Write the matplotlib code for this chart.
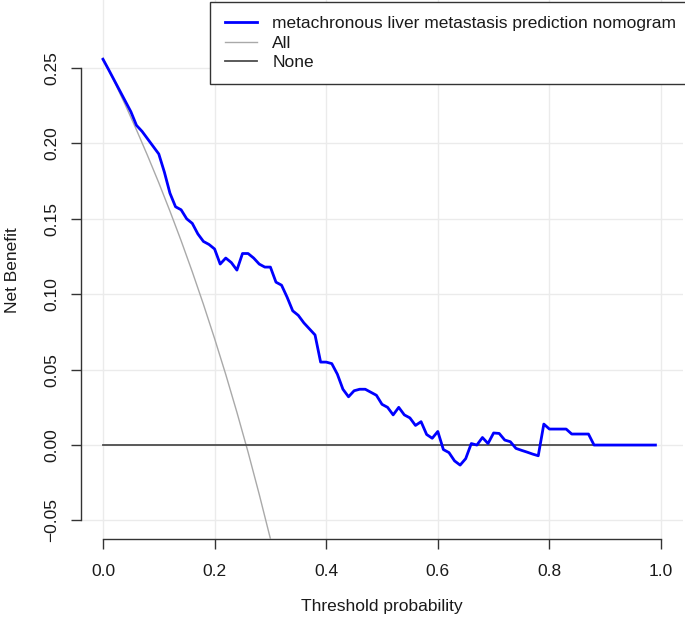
import matplotlib
matplotlib.use("Agg")
import matplotlib.pyplot as plt

plt.rcParams['font.family'] = ['Liberation Sans', 'DejaVu Sans']

# thresholds 0.00 .. 0.99
thresholds = [i / 100 for i in range(100)]

# net benefit of the nomogram
model_nb = [
    0.2558, 0.249, 0.242, 0.235, 0.228, 0.221, 0.212, 0.208, 0.203, 0.198,
    0.193, 0.181, 0.167, 0.158, 0.156, 0.150, 0.147, 0.140, 0.135, 0.133,
    0.130, 0.120, 0.124, 0.121, 0.116, 0.127, 0.127, 0.124, 0.120, 0.118,
    0.118, 0.108, 0.106, 0.098, 0.089, 0.086, 0.081, 0.077, 0.073, 0.055,
    0.055, 0.054, 0.047, 0.037, 0.032, 0.036, 0.037, 0.037, 0.035, 0.033,
    0.027, 0.025, 0.020, 0.025, 0.020, 0.018, 0.013, 0.0155, 0.007, 0.0045,
    0.009, -0.003, -0.005, -0.0105, -0.0133, -0.009, 0.001, 0.0, 0.005, 0.001,
    0.008, 0.0077, 0.0033, 0.0022, -0.0022, -0.0035, -0.0047, -0.006, -0.0071, 0.0139,
    0.0106, 0.0106, 0.0106, 0.0106, 0.0073, 0.0073, 0.0073, 0.0073, 0.0, 0.0,
    0.0, 0.0, 0.0, 0.0, 0.0, 0.0, 0.0, 0.0, 0.0, 0.0,
]

# "treat all" curve (it runs off the bottom at ~0.30)
all_t = [0.0, 0.02, 0.04, 0.06, 0.08, 0.10, 0.12, 0.14, 0.16, 0.18,
         0.20, 0.22, 0.24, 0.26, 0.28, 0.30, 0.32]
all_nb = [0.2565, 0.2413, 0.2255, 0.2090, 0.1918, 0.1739, 0.1551, 0.1355, 0.1149, 0.0933,
          0.0706, 0.0468, 0.0217, -0.0047, -0.0327, -0.0621, -0.0934]

none_t = [0.0, 0.99]
none_nb = [0.0, 0.0]

labels = ["metachronous liver metastasis prediction nomogram", "All", "None"]
xticks = [0.0, 0.2, 0.4, 0.6, 0.8, 1.0]
yticks = [-0.05, 0.00, 0.05, 0.10, 0.15, 0.20, 0.25]

FS = 12.5
W, H = 685, 625
fig = plt.figure(figsize=(W / 100, H / 100), dpi=100)
ax = fig.add_axes([81 / W, 86 / H, 602 / W, 539 / H])

for v in xticks:
    ax.axvline(v, color="#ebebeb", lw=1, zorder=0)
for v in yticks:
    ax.axhline(v, color="#ebebeb", lw=1, zorder=0)

l1, = ax.plot(thresholds, model_nb, color="#0000ff", lw=2, zorder=4)
l2, = ax.plot(all_t, all_nb, color="#a9a9a9", lw=1, zorder=3)
l3, = ax.plot(none_t, none_nb, color="#4d4d4d", lw=1.3, zorder=3)

ax.set_xlim(-0.0394, 1.0394)
ax.set_ylim(-0.0623, 0.2951)

for s in ["top", "right"]:
    ax.spines[s].set_visible(False)
ax.spines["left"].set_bounds(-0.05, 0.25)
ax.spines["bottom"].set_bounds(0, 1)
for s in ["left", "bottom"]:
    ax.spines[s].set_color("#333333")
    ax.spines[s].set_linewidth(1)

ax.set_xticks(xticks)
ax.set_xticklabels(["%.1f" % v for v in xticks])
ax.set_yticks(yticks)
ax.set_yticklabels(["%.2f" % v if v != -0.05 else "\u22120.05" for v in yticks],
                   rotation=90, va="center")
ax.tick_params(axis="both", direction="out", length=7.5, width=1, color="#333333",
               labelsize=FS, labelcolor="#1a1a1a")
ax.tick_params(axis="x", pad=10.5)
ax.tick_params(axis="y", pad=8)

fig.text(382 / W, 1 - 607 / H, "Threshold probability", ha="center", va="center",
         fontsize=FS, color="#1a1a1a")
fig.text(13 / W, 1 - 270 / H, "Net Benefit", ha="center", va="center",
         rotation=90, fontsize=FS, color="#1a1a1a")

# legend box runs off the right edge in the original
leg = ax.legend([l1, l2, l3], labels, loc="upper right", bbox_to_anchor=(1.0125, 0.9963),
                fontsize=FS, handlelength=1.85, handletextpad=0.9, labelspacing=0.24,
                borderpad=0.82, borderaxespad=0, fancybox=False, framealpha=1,
                edgecolor="#333333")
leg.get_frame().set_linewidth(1)
for t in leg.get_texts():
    t.set_color("#1a1a1a")

fig.savefig("out.png", dpi=100)
